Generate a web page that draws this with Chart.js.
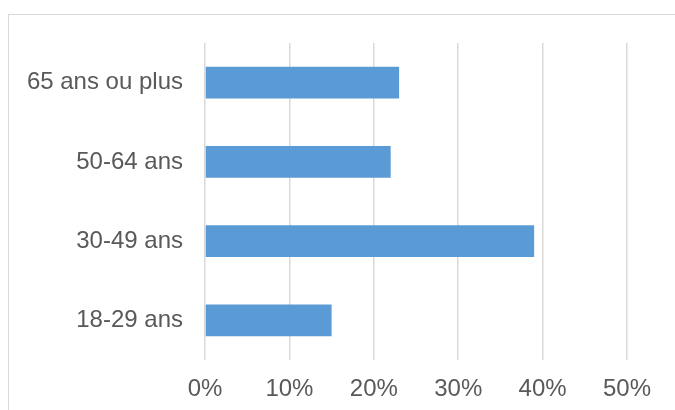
<!DOCTYPE html>
<html>
<head>
<meta charset="utf-8">
<script src="https://cdn.jsdelivr.net/npm/chart.js@4/dist/chart.umd.min.js"></script>
<style>
  html, body { margin: 0; padding: 0; background: #fff; overflow: hidden; }
  #wrap { position: relative; width: 675px; height: 410px; overflow: hidden; }
  #frame { position: absolute; left: 8px; top: 14px; width: 720px; height: 460px; border: 1.5px solid #d9d9d9; }
  #chart { position: absolute; left: 0; top: 0; }
</style>
</head>
<body>
<div id="wrap">
  <div id="frame"></div>
  <canvas id="chart" width="675" height="410"></canvas>
</div>
<script>
const categories = ['65 ans ou plus', '50-64 ans', '30-49 ans', '18-29 ans'];
const valeurs = [23, 22, 39, 15];
const xMin = 0;
const xMax = 50;
const xStep = 10;

const police = { family: "'Liberation Sans', Arial, sans-serif", size: 24 };
const gris = '#595959';

const ctx = document.getElementById('chart').getContext('2d');
new Chart(ctx, {
    type: 'bar',
    data: {
        labels: categories,
        datasets: [{
            data: valeurs,
            backgroundColor: '#5b9bd5',
            borderWidth: 0,
            categoryPercentage: 1,
            barPercentage: 0.4
        }]
    },
    options: {
        indexAxis: 'y',
        responsive: false,
        animation: false,
        layout: { padding: { left: 0, right: 48, top: 43, bottom: 0 } },
        plugins: { legend: { display: false }, tooltip: { enabled: false } },
        scales: {
            x: {
                min: xMin,
                max: xMax,
                border: { display: false },
                grid: { color: '#d9d9d9', lineWidth: 1.5, drawTicks: false },
                ticks: {
                    stepSize: xStep,
                    padding: 15,
                    color: gris,
                    font: police,
                    callback: (val) => val + '%'
                },
                afterFit: (s) => { s.height = 50; }
            },
            y: {
                border: { display: false },
                grid: { display: false, drawTicks: false },
                ticks: { padding: 22, color: gris, font: police },
                // la marge des étiquettes ne doit pas rogner la zone du graphique en hauteur
                afterFit: (s) => { s.width = 205; s.paddingTop = 0; s.paddingBottom = 0; }
            }
        }
    }
});
</script>
</body>
</html>
